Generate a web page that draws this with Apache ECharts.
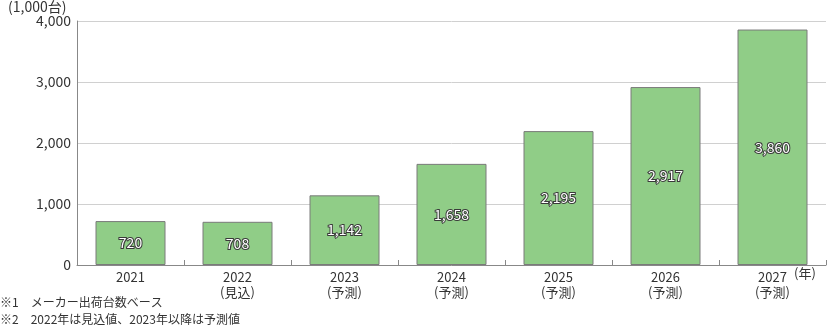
<!DOCTYPE html>
<html>
<head>
<meta charset="utf-8">
<script src="https://cdn.jsdelivr.net/npm/echarts@6/dist/echarts.min.js"></script>
<style>
html,body{margin:0;padding:0;background:#fff;}
#chart{width:828px;height:332px;}
</style>
</head>
<body>
<div id="chart"></div>
<script>
// Shipment volume by year (unit: 1,000 units)
const years = ['2021', '2022\n(見込)', '2023\n(予測)', '2024\n(予測)', '2025\n(予測)', '2026\n(予測)', '2027\n(予測)'];
const shipments = [720, 708, 1142, 1658, 2195, 2917, 3860];
const yTicks = [0, 1000, 2000, 3000, 4000];
const unitLabel = '(1,000台)';
const xUnitLabel = '(年)';
const notes = ['※1　メーカー出荷台数ベース', '※2　2022年は見込値、2023年以降は予測値'];

const font = '"Noto Sans CJK JP", "Noto Sans", sans-serif';
const chart = echarts.init(document.getElementById('chart'), null, {renderer: 'canvas'});
chart.setOption({
  animation: false,
  grid: {left: 77, right: 2, top: 21, bottom: 67, containLabel: false},
  xAxis: {
    type: 'category',
    data: years,
    axisLine: {lineStyle: {color: '#888', width: 1}},
    axisTick: {show: true, inside: true, length: 5, lineStyle: {color: '#888'}},
    axisLabel: {color: '#333', fontSize: 13, fontFamily: font, lineHeight: 15, margin: 5}
  },
  yAxis: {
    type: 'value',
    min: yTicks[0],
    max: yTicks[yTicks.length - 1],
    interval: 1000,
    axisLine: {show: true, lineStyle: {color: '#888', width: 1}},
    axisTick: {show: false},
    splitLine: {lineStyle: {color: '#d0d0d0', width: 1}},
    axisLabel: {
      color: '#333', fontSize: 14, fontFamily: font, margin: 6,
      formatter: v => v.toLocaleString('en-US')
    }
  },
  series: [{
    type: 'bar',
    data: shipments,
    barWidth: 70,
    itemStyle: {color: '#90cd87', borderColor: '#7a7a7a', borderWidth: 1},
    label: {
      show: true,
      position: 'inside',
      color: '#fff',
      fontSize: 14,
      fontFamily: font,
      textBorderColor: '#3a3a3a',
      textBorderWidth: 2,
      formatter: p => p.value.toLocaleString('en-US')
    }
  }],
  graphic: [
    {type: 'text', left: 8, top: 0, style: {text: unitLabel, fill: '#333', font: '14px ' + font}},
    {type: 'text', left: 794, top: 267, style: {text: xUnitLabel, fill: '#333', font: '13px ' + font}},
    {type: 'text', left: 0, top: 296, style: {text: notes[0], fill: '#333', font: '12px ' + font}},
    {type: 'text', left: 0, top: 313, style: {text: notes[1], fill: '#333', font: '12px ' + font}}
  ]
});
</script>
</body>
</html>
